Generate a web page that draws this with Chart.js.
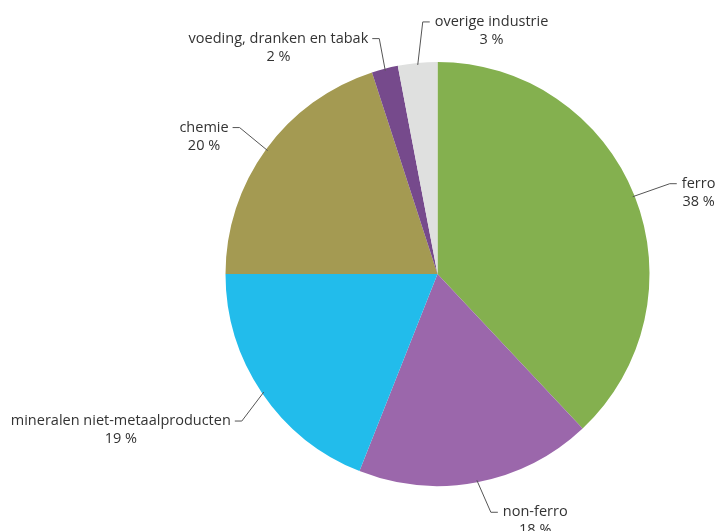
<!DOCTYPE html>
<html>
<head>
<meta charset="utf-8">
<script src="https://cdn.jsdelivr.net/npm/chart.js@4"></script>
<style>
  html, body { margin: 0; padding: 0; background: #fff; }
  #wrap { width: 718px; height: 531px; }
</style>
</head>
<body>
<div id="wrap"><canvas id="myChart"></canvas></div>
<script>
const myChart = document.getElementById("myChart");

const sectors = [
  "ferro",
  "non-ferro",
  "mineralen niet-metaalproducten",
  "chemie",
  "voeding, dranken en tabak",
  "overige industrie",
];
const shares = [38, 18, 19, 20, 2, 3];
const sliceColors = ["#84b04f", "#9b67ab", "#22bceb", "#a49a52", "#764a8c", "#dfe0df"];
// leader line layout: elbow offset from the slice edge, and side of the label
const elbowOffset = [[37, -13], [14, 32], [-22, 29], [-28, -23], [-6, -32], [5, -43]];
const labelSide = ["right", "right", "left", "left", "left", "right"];

const leaderLabels = {
  id: "leaderLabels",
  afterDraw(chart) {
    const ctx = chart.ctx;
    const arcs = chart.getDatasetMeta(0).data;
    ctx.save();
    ctx.font = '14.5px "Open Sans"';
    ctx.textBaseline = "middle";
    arcs.forEach((arc, i) => {
      const p = arc.getProps(["x", "y", "startAngle", "endAngle", "outerRadius"], true);
      const mid = (p.startAngle + p.endAngle) / 2;
      const r = p.outerRadius - 2;
      const x0 = p.x + Math.cos(mid) * r;
      const y0 = p.y + Math.sin(mid) * r;
      const x1 = x0 + elbowOffset[i][0];
      const y1 = y0 + elbowOffset[i][1];
      const dir = labelSide[i] === "right" ? 1 : -1;
      const x2 = x1 + dir * 7;

      ctx.strokeStyle = "#555";
      ctx.lineWidth = 1;
      ctx.beginPath();
      ctx.moveTo(x0, y0);
      ctx.lineTo(x1, y1);
      ctx.lineTo(x2, y1);
      ctx.stroke();

      const name = sectors[i];
      const pct = shares[i] + " %";
      const w = ctx.measureText(name).width;
      const cx = dir > 0 ? x2 + 5 + w / 2 : x2 - 4 - w / 2;
      ctx.fillStyle = "#333";
      ctx.textAlign = "center";
      ctx.fillText(name, cx, y1);
      ctx.fillText(pct, cx, y1 + 18);
    });
    ctx.restore();
  },
};

new Chart(myChart, {
  type: "pie",
  data: {
    labels: sectors,
    datasets: [
      {
        data: shares,
        backgroundColor: sliceColors,
        borderWidth: 0,
      },
    ],
  },
  options: {
    responsive: true,
    maintainAspectRatio: false,
    animation: false,
    layout: { padding: { left: 225, right: 68, top: 62, bottom: 45 } },
    plugins: {
      legend: { display: false },
      tooltip: { enabled: false },
    },
  },
  plugins: [leaderLabels],
});
</script>
</body>
</html>
